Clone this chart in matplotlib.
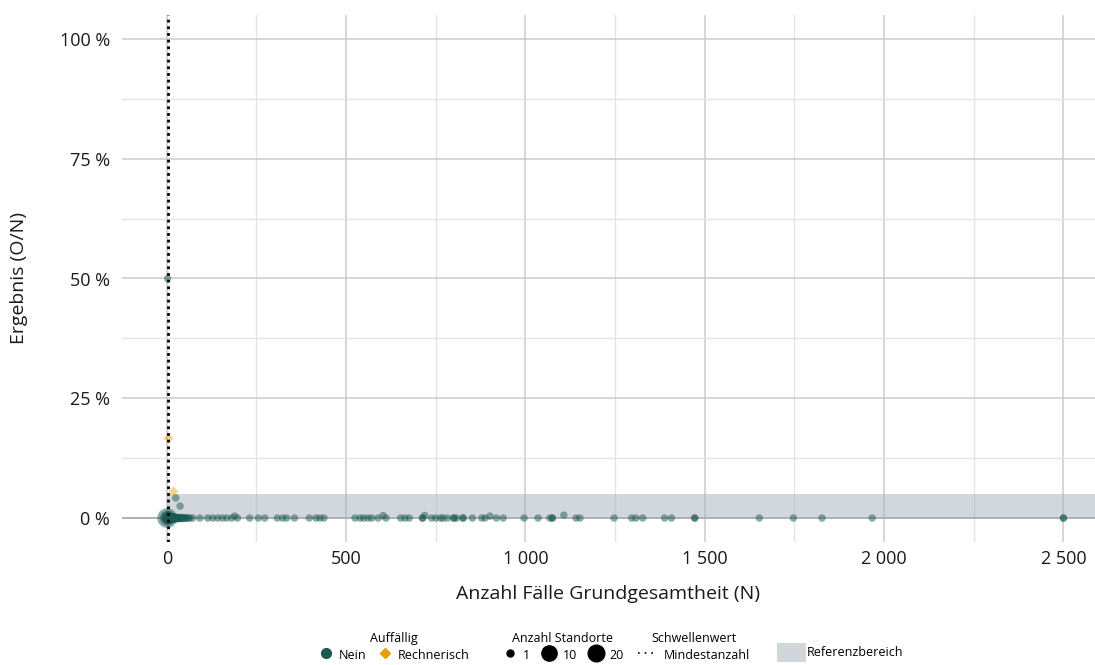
import matplotlib
matplotlib.use('Agg')
import matplotlib.pyplot as plt
from matplotlib.lines import Line2D
from matplotlib.patches import Patch
from matplotlib.ticker import FuncFormatter, MultipleLocator
import numpy as np

plt.rcParams['font.family'] = ['Open Sans', 'DejaVu Sans']

# Standorte mit Ergebnis 0 % (Anzahl Fälle N, Anzahl Standorte)
zero_n_cases = [1, 2, 3, 4, 5, 6, 7, 8, 10, 12, 14, 16, 18, 20, 22, 25, 28, 31, 34, 37,
                40, 44, 48, 52, 56, 60, 64, 72, 92, 114, 128, 142, 155, 167, 181, 197,
                231, 255, 273, 308, 323, 334, 356, 397, 416, 427, 438, 525, 539, 549, 561,
                571, 589, 611, 652, 664, 676, 713, 713, 738, 750, 763, 770, 782, 800, 800,
                808, 826, 826, 852, 878, 887, 919, 938, 996, 1035, 1068, 1075, 1075, 1141,
                1152, 1247, 1296, 1308, 1327, 1388, 1407, 1472, 1472, 1652, 1747, 1827,
                1967, 2500, 2500]
zero_sites = [28, 15, 11, 9, 8, 7, 6, 6, 5, 5, 4, 4, 4, 3, 3, 3, 3, 2, 2, 2,
              2, 2, 2, 1, 1, 1, 1, 1, 1, 1, 1, 1, 1, 1, 1, 1,
              1, 1, 1, 1, 1, 1, 1, 1, 1, 1, 1, 1, 1, 1, 1,
              1, 1, 1, 1, 1, 1, 1, 1, 1, 1, 1, 1, 1, 1, 1,
              1, 1, 1, 1, 1, 1, 1, 1, 1, 1, 1, 1, 1, 1,
              1, 1, 1, 1, 1, 1, 1, 1, 1, 1, 1, 1,
              1, 1, 1]

# Standorte mit Ergebnis > 0 %, nicht auffällig
pos_n_cases = [2, 25, 37, 189, 603, 719, 901, 1107]
pos_result = [50.0, 4.2, 2.5, 0.4, 0.5, 0.55, 0.4, 0.6]
pos_sites = [1, 1, 1, 1, 1, 1, 1, 1]

# rechnerisch auffällige Standorte
flag_n_cases = [3, 17]
flag_result = [16.7, 5.6]

ref_upper = 5.0        # Referenzbereich 0 - 5 %
min_cases = 3          # Mindestanzahl

teal = '#1b5a54'
orange = '#e69f00'
text_col = '#1a1a1a'


def site_size(n):
    return 29 + (np.asarray(n) - 1) * 6.4


fig = plt.figure(figsize=(10.95, 6.65), dpi=100)
ax = fig.add_axes([122 / 1095, 1 - 542 / 665, 973 / 1095, 527 / 665])

x_lo, x_hi = -125, 2588
ax.set_xlim(x_lo, x_hi)
ax.set_ylim(-5, 105)

ax.xaxis.set_major_locator(MultipleLocator(500))
ax.xaxis.set_minor_locator(MultipleLocator(250))
ax.yaxis.set_major_locator(MultipleLocator(25))
ax.yaxis.set_minor_locator(MultipleLocator(12.5))
ax.grid(which='major', color='#cbcbcb', lw=1.1, zorder=0)
ax.grid(which='minor', color='#e4e4e4', lw=1.0, zorder=0)
ax.set_axisbelow(True)
for s in ax.spines.values():
    s.set_visible(False)
ax.tick_params(which='both', length=0)
ax.tick_params(axis='y', pad=8.5, labelsize=13, labelcolor=text_col)
ax.tick_params(axis='x', pad=6, labelsize=13, labelcolor=text_col)

ax.xaxis.set_major_formatter(FuncFormatter(lambda v, p: f'{int(v):,}'.replace(',', ' ')))
ax.yaxis.set_major_formatter(FuncFormatter(lambda v, p: f'{int(v)} %'))

# Referenzbereich
ax.axhspan(0, ref_upper, xmin=(0 - x_lo) / (x_hi - x_lo), xmax=1,
           color='#a7b1b9', alpha=0.5, lw=0, zorder=1)
ax.axhline(0, color='#a9adb0', lw=1.2, zorder=1.5)

# Mindestanzahl
ax.axvline(min_cases, color='black', lw=2.0, ls=(0, (1, 1.4)), zorder=4)

ax.scatter(zero_n_cases, np.zeros(len(zero_n_cases)), s=site_size(zero_sites),
           color=teal, alpha=0.5, linewidths=0, zorder=3)
ax.scatter(pos_n_cases, pos_result, s=site_size(pos_sites),
           color=teal, alpha=0.5, linewidths=0, zorder=3)
ax.scatter(flag_n_cases, flag_result, s=26, marker='D',
           color=orange, alpha=0.45, linewidths=0, zorder=3)

ax.set_xlabel('Anzahl Fälle Grundgesamtheit (N)', fontsize=14, color=text_col)
ax.set_ylabel('Ergebnis (O/N)', fontsize=14, color=text_col)
ax.xaxis.set_label_coords(0.5, (542 - 594) / 527)
ax.xaxis.label.set_va('center')
ax.yaxis.set_label_coords((19 - 122) / 973, 0.5)
ax.yaxis.label.set_va('center')

# Legenden
base_kw = dict(frameon=False, fontsize=9, title_fontsize=9, loc='upper center',
               borderpad=0, borderaxespad=0, labelspacing=0.2)
ytop = 1 - 632 / 665

h1 = [Line2D([], [], ls='', marker='o', ms=7, color=teal),
      Line2D([], [], ls='', marker='D', ms=5.5, color=orange)]
fig.legend(h1, ['Nein', 'Rechnerisch'], title='Auffällig', ncol=2, handlelength=1.2,
           handleheight=1.5, handletextpad=0.4, columnspacing=0.9,
           bbox_to_anchor=(394 / 1095, ytop), **base_kw)

h2 = [Line2D([], [], ls='', marker='o', ms=ms, color='black') for ms in (5, 11, 12)]
fig.legend(h2, ['1', '10', '20'], title='Anzahl Standorte', ncol=3, handlelength=1.2,
           handleheight=1.5, handletextpad=0.5, columnspacing=0.9,
           bbox_to_anchor=(563 / 1095, ytop), **base_kw)

h3 = [Line2D([], [], color='black', lw=1.2, ls=(0, (1, 3)))]
fig.legend(h3, ['Mindestanzahl'], title='Schwellenwert', ncol=1, handlelength=1.6,
           handleheight=1.5, handletextpad=0.4,
           bbox_to_anchor=(694 / 1095, ytop), **base_kw)

h4 = [Patch(color='#d1d6da', lw=0)]
fig.legend(h4, ['Referenzbereich'], ncol=1, handlelength=2.3, handleheight=1.9,
           handletextpad=0.1, bbox_to_anchor=(840 / 1095, 1 - 643 / 665), **base_kw)

fig.savefig('out.png', dpi=100)
